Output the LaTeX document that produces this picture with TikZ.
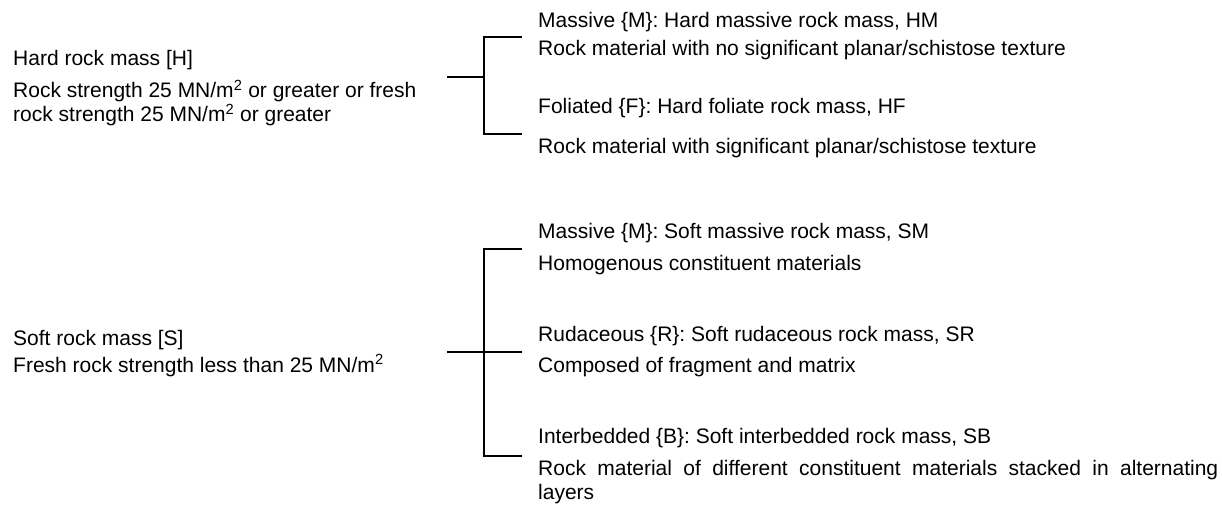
\documentclass[tikz,border=0pt]{standalone}
\usepackage{fontspec}
\setmainfont{Liberation Sans}
\usepackage{tikz}
\tikzset{
  lbl/.style={anchor=base west,inner sep=0pt,font=\fontsize{21}{24}\selectfont},
  brk/.style={line width=1.8pt},
}
\begin{document}
\begin{tikzpicture}[x=1pt,y=-1pt]
\useasboundingbox (0,0) rectangle (1222,505);
% rock mass classes
\node[lbl] (H) at (13,66) {Hard rock mass [H]};
\node[lbl] (Hd1) at (13,98) {Rock strength 25 MN/m\textsuperscript{2} or greater or fresh};
\node[lbl] (Hd2) at (13,122) {rock strength 25 MN/m\textsuperscript{2} or greater};
\node[lbl] (S) at (13,345) {Soft rock mass [S]};
\node[lbl] (Sd) at (13,372) {Fresh rock strength less than 25 MN/m\textsuperscript{2}};
% hard sub-classes
\node[lbl] (HM) at (538,28) {Massive \{M\}: Hard massive rock mass, HM};
\node[lbl] (HMd) at (538,56) {Rock material with no significant planar/schistose texture};
\node[lbl] (HF) at (538,114) {Foliated \{F\}: Hard foliate rock mass, HF};
\node[lbl] (HFd) at (538,154) {Rock material with significant planar/schistose texture};
% soft sub-classes
\node[lbl] (SM) at (538,238) {Massive \{M\}: Soft massive rock mass, SM};
\node[lbl] (SMd) at (538,270) {Homogenous constituent materials};
\node[lbl] (SR) at (538,341) {Rudaceous \{R\}: Soft rudaceous rock mass, SR};
\node[lbl] (SRd) at (538,372) {Composed of fragment and matrix};
\node[lbl] (SB) at (538,443) {Interbedded \{B\}: Soft interbedded rock mass, SB};
\node[lbl,text width=680pt,align=justify] (SBd) at (538,475) {Rock material of different constituent materials stacked in alternating\linebreak layers};

\coordinate (h0) at (447,77);%stub hard
\coordinate (h1) at (484,77);
\coordinate (h2) at (484,37);
\coordinate (h3) at (484,134);
\coordinate (hm) at (522,37);%to HM
\coordinate (hf) at (522,134);%to HF
\coordinate (s0) at (447,352);%stub soft
\coordinate (s2) at (484,249);
\coordinate (s3) at (484,456);
\coordinate (sm) at (522,249);%to SM
\coordinate (sr) at (522,352);%to SR
\coordinate (sb) at (522,456);%to SB

\draw[brk] (h0) -- (h1);
\draw[brk] (hm) -- (h2) -- (h3) -- (hf);
\draw[brk] (s0) -- (sr);
\draw[brk] (sm) -- (s2) -- (s3) -- (sb);
\end{tikzpicture}
\end{document}
